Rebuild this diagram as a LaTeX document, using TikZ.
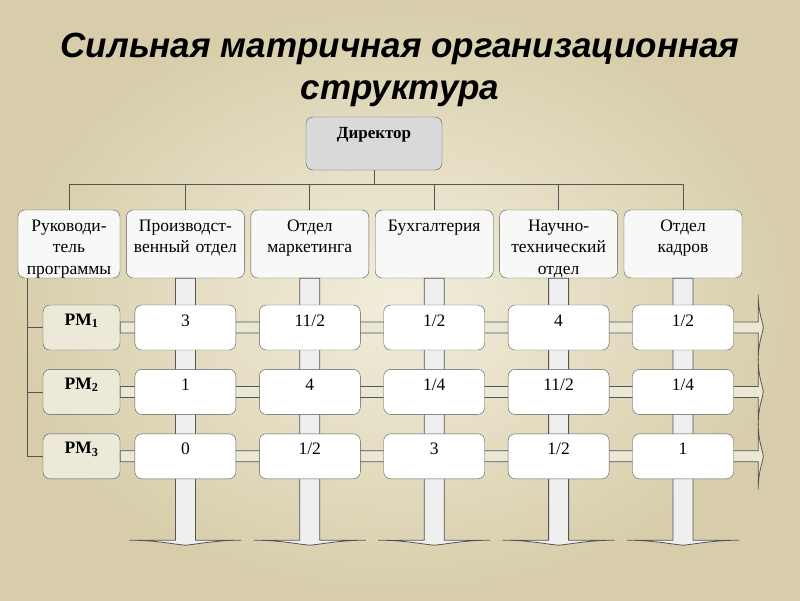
\documentclass[tikz,border=0pt]{standalone}
\usepackage{fontspec}
\setmainfont{Liberation Serif}
\newfontfamily\titlefont{Liberation Sans}
\usepackage{tikz}
\usetikzlibrary{positioning, calc}
\definecolor{bgin}{HTML}{F2EEDC}
\definecolor{bgout}{HTML}{D7CDAA}
\definecolor{boxline}{HTML}{555555}
\definecolor{bossfill}{HTML}{D9D9D9}
\definecolor{deptfill}{HTML}{F8F8F6}
\definecolor{pmfill}{HTML}{ECE9D8}
\definecolor{vbarfill}{HTML}{EFEFEF}
\definecolor{hbarfill}{HTML}{EBE7D5}
\tikzset{title/.style={font=\titlefont\bfseries\itshape\fontsize{35}{42}\selectfont,align=center},
         boss/.style={rectangle,draw=boxline,fill=bossfill,rounded corners=7pt,minimum width=136pt,inner sep=0pt,text height=21pt,text depth=32pt,font=\bfseries\fontsize{17}{21}\selectfont},
         dept/.style={rectangle,draw=boxline,fill=deptfill,rounded corners=7pt,text width=118pt,align=center,inner sep=0pt,text height=21pt,text depth=47pt,font=\fontsize{17.5}{21.5}\selectfont},
         pm/.style={rectangle,draw=boxline,fill=pmfill,rounded corners=7pt,minimum width=77pt,inner sep=0pt,text height=20pt,text depth=25pt,font=\bfseries\fontsize{17.5}{20}\selectfont},
         cell/.style={rectangle,draw=boxline,fill=white,rounded corners=7pt,minimum width=101pt,inner sep=0pt,text height=21pt,text depth=24pt,font=\fontsize{17.5}{20}\selectfont},
         link/.style={draw=boxline,line width=0.8pt},
         vbar/.style={draw=boxline,fill=vbarfill,line width=0.8pt},
         hbar/.style={draw=boxline,fill=hbarfill,line width=0.8pt}}
\begin{document}
\begin{tikzpicture}[x=1pt,y=-1pt,node distance=6pt]
    \shade[inner color=bgin,outer color=bgout] (0,0) rectangle (800,600);
    \useasboundingbox (0,0) rectangle (800,600);
    \node (title) [title,anchor=base] at (400,99) {Сильная матричная организационная\\структура};
    \node (dir) [boss] at (374,143.5) {Директор};
    \node (ruk) [dept,text width=102pt] at (69,244) {Руководи-\\тель\\программы};
    \node (prod) [dept,right=of ruk] {Производст-\\венный отдел};
    \node (mark) [dept,right=of prod] {Отдел\\маркетинга};
    \node (buh) [dept,right=of mark] {Бухгалтерия};
    \node (nauch) [dept,right=of buh] {Научно-\\технический\\отдел};
    \node (kadr) [dept,right=of nauch] {Отдел\\кадров};
    \node (pm1) [pm] at (81.5,327.5) {PM\textsubscript{1}};
    \node (pm2) [pm,below=19pt of pm1] {PM\textsubscript{2}};
    \node (pm3) [pm,below=19pt of pm2] {PM\textsubscript{3}};
    % director to the departments
    \draw[link] (dir.south) -- ++(0,14) coordinate (bus);
    \draw[link] (bus -| ruk.north) -- (bus -| kadr.north);
    \foreach \d in {ruk,prod,mark,buh,nauch,kadr}
      \draw[link] (bus -| \d.north) -- (\d.north);
    % program manager line
    \coordinate (trunk) at ([xshift=10pt]ruk.south west);
    \draw[link] (trunk) |- (pm3.west);
    \draw[link] (trunk |- pm1.west) -- (pm1.west);
    \draw[link] (trunk |- pm2.west) -- (pm2.west);
    % wide arrows of the projects and of the departments
    \foreach \i in {1,2,3}
      \path[hbar,shift={(pm\i.east)}] (0,-5.5) -- (638,-5.5) -- (638,-33) .. controls (638,-14) and (643,-5) .. (643,0) .. controls (643,5) and (638,14) .. (638,33) -- (638,5.5) -- (0,5.5) -- cycle;
    \foreach \d in {prod,mark,buh,nauch,kadr}
      \path[vbar,shift={(\d.south)}] (-10,0) -- (-10,262) -- (-56,262) .. controls (-30,262) and (-12,266) .. (0,267) .. controls (12,266) and (30,262) .. (56,262) -- (10,262) -- (10,0) -- cycle;
    \foreach \d/\a/\b/\c in {prod/3/1/0,mark/{11/2}/4/{1/2},buh/{1/2}/{1/4}/3,nauch/4/{11/2}/{1/2},kadr/{1/2}/{1/4}/1} {
      \node (\d-1) [cell] at (\d |- pm1) {\a};
      \node (\d-2) [cell] at (\d |- pm2) {\b};
      \node (\d-3) [cell] at (\d |- pm3) {\c};
    }
  \end{tikzpicture}
\end{document}
